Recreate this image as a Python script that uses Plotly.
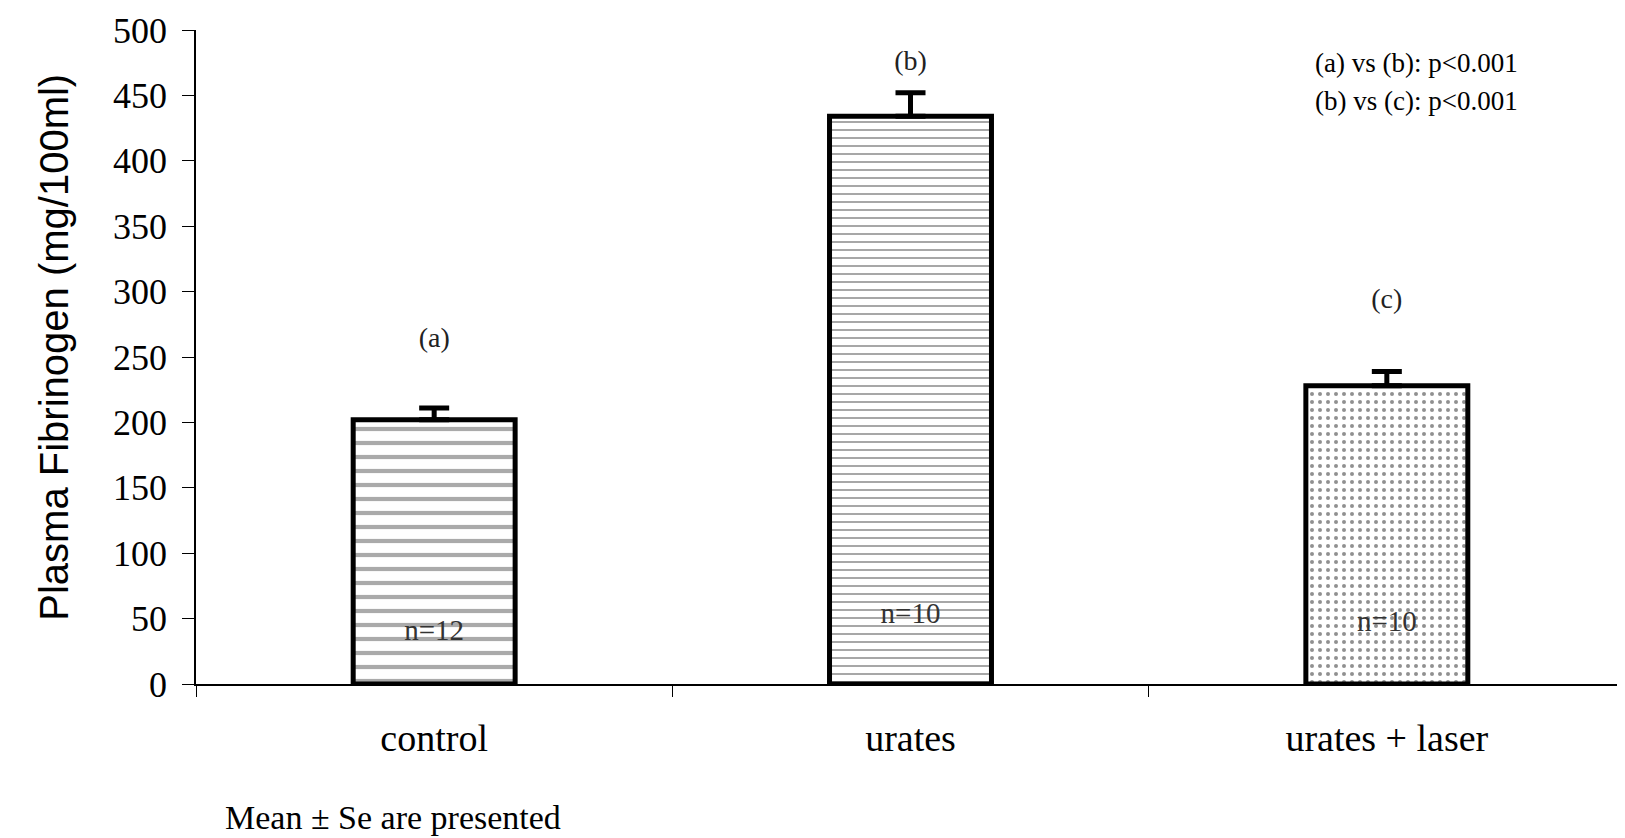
# Bar chart of plasma fibrinogen by group, with SE error bars and notes
import plotly.graph_objects as go

# Data
groups = ["control", "urates", "urates + laser"]
means = [202, 434, 228]
se = [9, 18, 11]
letters = ["(a)", "(b)", "(c)"]
letter_y = [263, 475, 293]
n_labels = ["n=12", "n=10", "n=10"]
n_y = [39, 52, 46]
y_ticks = list(range(0, 501, 50))

serif = "Liberation Serif, Times New Roman, serif"
sans = "Liberation Sans, Arial, sans-serif"

fig = go.Figure()

# The three bars, each with its own fill pattern
fig.add_trace(go.Bar(
    x=groups,
    y=means,
    width=0.34,
    marker=dict(
        color="white",
        line=dict(color="black", width=5),
        pattern=dict(
            shape=["-", "-", "."],
            size=[14, 8, 8],
            solidity=[0.3, 0.2, 0.2],
            fgcolor=["#555555", "#222222", "#222222"],
            bgcolor="white",
            fillmode="overlay",
        ),
    ),
    error_y=dict(type="data", array=se, arrayminus=[0, 0, 0], symmetric=False,
                 color="black", thickness=5, width=15),
    showlegend=False,
))

# Group letters above the bars
fig.add_trace(go.Scatter(
    x=groups, y=letter_y, mode="text", text=letters,
    textfont=dict(family=serif, size=28, color="#222222"),
    showlegend=False, hoverinfo="skip",
))

# Sample sizes inside the bars
fig.add_trace(go.Scatter(
    x=groups, y=n_y, mode="text", text=n_labels,
    textfont=dict(family=serif, size=29, color="#333333"),
    showlegend=False, hoverinfo="skip",
))

fig.update_layout(
    width=1625, height=838,
    margin=dict(l=188, r=8, t=22, b=162, autoexpand=False),
    plot_bgcolor="white", paper_bgcolor="white",
    font=dict(family=serif, color="black"),
)

fig.update_xaxes(
    type="category", showline=True, linecolor="black", linewidth=1.5,
    ticks="outside", tickson="boundaries", ticklen=11, tickcolor="black",
    tickfont=dict(family=serif, size=38, color="black"),
    ticklabelstandoff=20, showgrid=False, zeroline=False, automargin=False,
)
fig.update_yaxes(
    range=[0, 500], tickvals=y_ticks, showline=True, linecolor="black",
    linewidth=1.5, ticks="outside", ticklen=12, tickcolor="black",
    tickfont=dict(family=serif, size=36, color="black"),
    ticklabelstandoff=8, ticklabeloverflow="allow",
    showgrid=False, zeroline=False, automargin=False,
)

# Axis title as a rotated annotation
fig.add_annotation(
    text="Plasma Fibrinogen (mg/100ml)", textangle=-90,
    xref="paper", yref="paper", x=-0.099, y=0.515,
    xanchor="center", yanchor="middle", showarrow=False,
    font=dict(family=sans, size=40, color="black"),
)
# Significance notes, top right
fig.add_annotation(
    text="(a) vs (b): p<0.001",
    xref="paper", yref="paper", x=0.782, y=0.950,
    xanchor="left", yanchor="middle", showarrow=False,
    font=dict(family=serif, size=27, color="black"),
)
fig.add_annotation(
    text="(b) vs (c): p<0.001",
    xref="paper", yref="paper", x=0.782, y=0.892,
    xanchor="left", yanchor="middle", showarrow=False,
    font=dict(family=serif, size=27, color="black"),
)
# Footnote under the chart
fig.add_annotation(
    text="Mean ± Se are presented",
    xref="paper", yref="paper", x=0.019, y=-0.236,
    xanchor="left", yanchor="bottom", showarrow=False,
    font=dict(family=serif, size=34, color="black"),
)

fig.write_html("out.html")
